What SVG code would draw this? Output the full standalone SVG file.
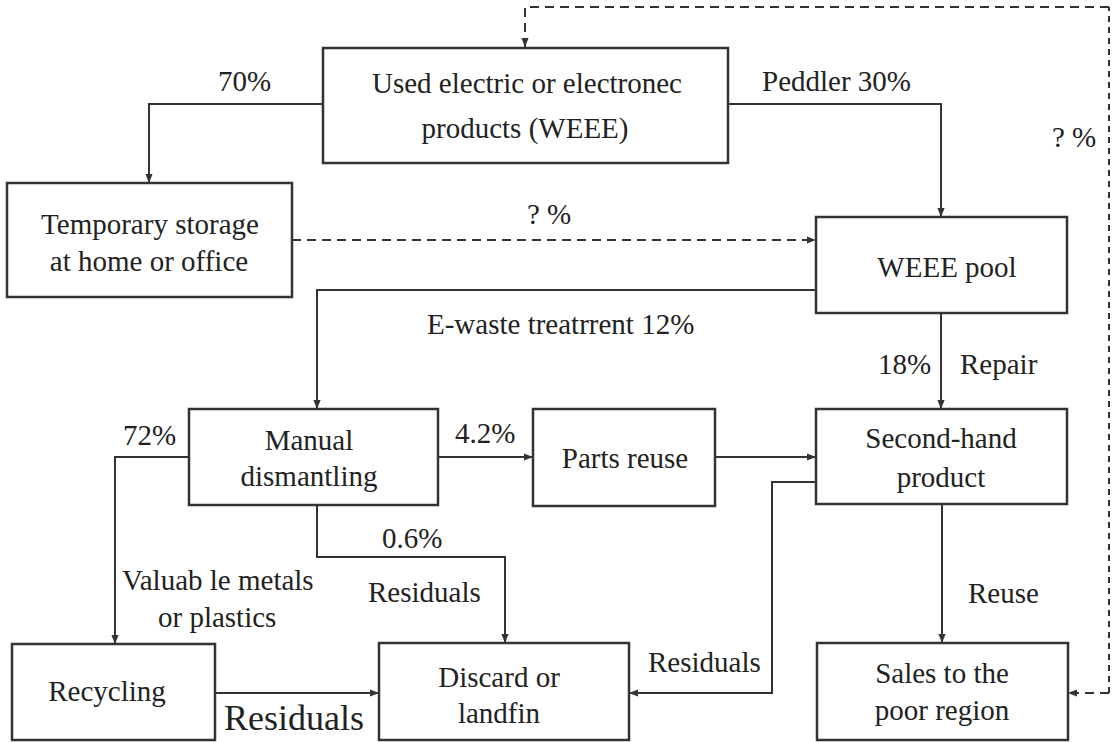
<svg xmlns="http://www.w3.org/2000/svg" width="1113" height="742" viewBox="0 0 1113 742">
<style>
.box{fill:none;stroke:#333;stroke-width:2.5}
.ln{fill:none;stroke:#333;stroke-width:2}
.dash{fill:none;stroke:#333;stroke-width:2;stroke-dasharray:9,6}
.dashv{fill:none;stroke:#333;stroke-width:2;stroke-dasharray:6,5}
text{font-family:"Liberation Serif","Times New Roman",serif;font-size:29px;fill:#222}
.c{text-anchor:middle}
.big{font-size:36px}
</style>
<defs>
<marker id="ah" viewBox="0 0 10 10" refX="10" refY="5" markerWidth="9" markerHeight="9" markerUnits="userSpaceOnUse" orient="auto">
<path d="M0,1 L10,5 L0,9 z" fill="#333"/>
</marker>
</defs>
<rect width="1113" height="742" fill="#fff"/>
<g id="connectors">
<path class="ln" d="M323,104 H149 V183" marker-end="url(#ah)"/>
<path class="ln" d="M728,104 H941 V217" marker-end="url(#ah)"/>
<path class="dash" d="M292,240 H816" marker-end="url(#ah)"/>
<path class="dashv" d="M1109,693 V7"/>
<path class="dash" d="M1109,7 H525 V47" marker-end="url(#ah)"/>
<path class="dash" d="M1109,693 H1068" marker-end="url(#ah)"/>
<path class="ln" d="M816,290 H317 V409" marker-end="url(#ah)"/>
<path class="ln" d="M941,313 V409" marker-end="url(#ah)"/>
<path class="ln" d="M438,457 H533" marker-end="url(#ah)"/>
<path class="ln" d="M715,457 H816" marker-end="url(#ah)"/>
<path class="ln" d="M816,482 H772 V693 H629" marker-end="url(#ah)"/>
<path class="ln" d="M189,457 H115 V644" marker-end="url(#ah)"/>
<path class="ln" d="M317,505 V557 H505 V643" marker-end="url(#ah)"/>
<path class="ln" d="M215,693 H379" marker-end="url(#ah)"/>
<path class="ln" d="M942,504 V643" marker-end="url(#ah)"/>
<text x="218" y="91">70%</text>
<text x="762" y="91">Peddler 30%</text>
<text x="527" y="224">? %</text>
<text x="1052" y="147">? %</text>
<text x="427" y="334">E-waste treatrrent 12%</text>
<text x="878" y="374">18%</text>
<text x="960" y="374">Repair</text>
<text x="455" y="443">4.2%</text>
<text x="123" y="445">72%</text>
<text x="122" y="590">Valuab le metals</text>
<text x="158" y="627">or plastics</text>
<text x="382" y="548">0.6%</text>
<text x="368" y="602">Residuals</text>
<text x="648" y="672">Residuals</text>
<text x="968" y="603">Reuse</text>
<text class="big" x="224" y="730">Residuals</text>
</g>
<g id="used">
<rect class="box" x="323" y="48" width="405" height="115"/>
<text class="c" x="527" y="93">Used electric or electronec</text>
<text class="c" x="525" y="138">products (WEEE)</text>
</g>
<g id="temporary">
<rect class="box" x="7" y="183" width="285" height="114"/>
<text class="c" x="150" y="234">Temporary storage</text>
<text class="c" x="149" y="271">at home or office</text>
</g>
<g id="pool">
<rect class="box" x="816" y="217" width="251" height="96"/>
<text class="c" x="947" y="277">WEEE pool</text>
</g>
<g id="manual">
<rect class="box" x="189" y="409" width="249" height="96"/>
<text class="c" x="309" y="450">Manual</text>
<text class="c" x="309" y="486">dismantling</text>
</g>
<g id="parts">
<rect class="box" x="533" y="409" width="182" height="97"/>
<text class="c" x="625" y="468">Parts reuse</text>
</g>
<g id="second">
<rect class="box" x="816" y="409" width="251" height="95"/>
<text class="c" x="941" y="448">Second-hand</text>
<text class="c" x="941" y="487">product</text>
</g>
<g id="recycling">
<rect class="box" x="12" y="644" width="203" height="96"/>
<text class="c" x="107" y="701">Recycling</text>
</g>
<g id="discard">
<rect class="box" x="379" y="643" width="250" height="97"/>
<text class="c" x="499" y="687">Discard or</text>
<text class="c" x="499" y="723">landfin</text>
</g>
<g id="sales">
<rect class="box" x="817" y="643" width="251" height="97"/>
<text class="c" x="942" y="683">Sales to the</text>
<text class="c" x="942" y="720">poor region</text>
</g>
</svg>
